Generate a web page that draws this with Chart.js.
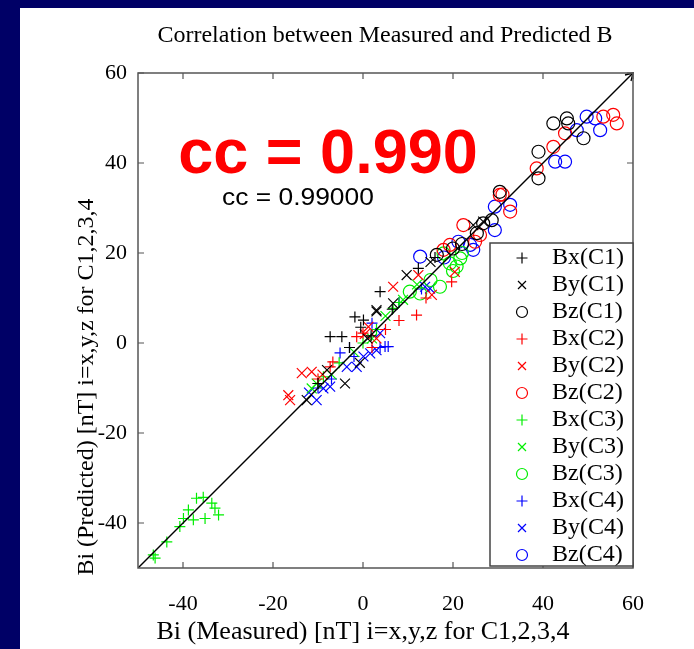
<!DOCTYPE html>
<html>
<head>
<meta charset="utf-8">
<script src="https://cdn.jsdelivr.net/npm/chart.js@4.4.1/dist/chart.umd.min.js"></script>
<style>
  html, body { margin: 0; padding: 0; background: #000066; }
  #wrap { width: 694px; height: 649px; }
</style>
</head>
<body>
<div id="wrap"><canvas id="cc"></canvas></div>
<script>
// axis ticks
var xTicks = [-40, -20, 0, 20, 40, 60];
var yTicks = [-40, -20, 0, 20, 40, 60];
var axisMin = -50, axisMax = 60;

// measured vs predicted, [x, y] per point
var bxC1 = [[-1.8,5.8],[0.1,5.1],[-7.3,1.4],[-4.7,1.4],[3.8,11.4],[12.3,16.6],[-0.5,3.5],[1.8,1.6],[6.5,7.5],[-10,-9],[16,19],[-3,-1]];
var byC1 = [[3,7],[-4,-9],[-12.5,-12.7],[-0.7,-4.4],[9.7,15.1],[6.7,8.8],[3,7.3],[24.5,26.2],[26.7,27],[1,1],[15,18],[-8,-6]];
var bzC1 = [[42.3,48.8],[45.3,49.9],[45.6,48.8],[49,45.5],[39,42.5],[39,36.6],[30.4,33.6],[28.6,27.3],[26.7,26.6],[25.3,24.4],[16.4,19.6],[20,21],[22,22]];
var bxC2 = [[-7.3,-5.3],[-6.7,-4.2],[-1.4,1.4],[0,2.2],[11.9,6.2],[19.7,13.6],[14,10],[5,3],[2,-1],[8,5],[-10,-8]];
var byC2 = [[-16.6,-11.6],[-16.2,-12.7],[-13.6,-6.7],[-11.4,-6.4],[1.2,3.6],[6.7,12.5],[12.3,15.1],[15.3,10.7],[20.4,15.8],[0.4,2],[-9,-7],[3,1]];
var bzC2 = [[22.3,26.2],[17.9,20.7],[19.3,21.8],[24.9,22.5],[44.9,46.6],[42.3,43.6],[38.6,38.8],[30.4,32.9],[32.7,29.2],[53.4,50.3],[55.6,50.7],[56.4,48.8],[31,33],[26,24]];
var bxC3 = [[-37,-34.5],[-35.5,-34.3],[-33.6,-35.6],[-32.9,-36.7],[-32.1,-38.2],[-35.1,-39],[-37.7,-39.3],[-38.8,-37.1],[-39.9,-39],[-40.7,-40.8],[-43.6,-44.2],[-46.6,-47.1],[-46.2,-47.8],[-8.8,-7.5],[-5.3,-4.4],[0,0],[6.7,7.7],[-10,-9],[3,3],[8,9]];
var byC3 = [[-11.4,-10.1],[-10.3,-9],[8.9,9.6],[-2,-2],[2,1],[5,6],[-7,-7],[12,13]];
var bzC3 = [[10.4,11.4],[12.7,11],[17.1,12.5],[19.3,17.7],[21.6,18.8],[20.8,17],[17.9,19.9],[20,16],[15,14],[22,20]];
var bxC4 = [[-5.1,-2.2],[4.9,-0.8],[5.6,-0.8],[3.8,-1],[-10,-10],[-7,-8],[-2,-3],[2,4.4],[13,12],[8,9],[-3,-1]];
var byC4 = [[-10.3,-12.7],[-7.3,-9.7],[-8.8,-10.1],[0.1,-3],[1.6,-2.3],[3,-1.6],[-1.4,-5.3],[-3.6,-5.3],[3.8,2.2],[13.8,12.5],[14.9,12.1],[-12,-11]];
var bzC4 = [[49.7,50.3],[51.6,49.9],[47.5,47.3],[52.7,47.3],[42.7,40.3],[44.9,40.3],[32.7,30.7],[29.3,30.3],[29.3,25.1],[12.7,19.2],[23.8,21.8],[24.5,20.7],[21.2,22.5],[18,19]];

var seriesNames = ['Bx(C1)','By(C1)','Bz(C1)','Bx(C2)','By(C2)','Bz(C2)','Bx(C3)','By(C3)','Bz(C3)','Bx(C4)','By(C4)','Bz(C4)'];
var seriesData = [bxC1, byC1, bzC1, bxC2, byC2, bzC2, bxC3, byC3, bzC3, bxC4, byC4, bzC4];
var craftColors = ['#000000', '#ff0000', '#00ee00', '#0000ff'];
var markers = ['cross', 'crossRot', 'circle'];
var markerSize = { cross: 5.5, crossRot: 7, circle: 6.5 };

var datasets = [];
for (var i = 0; i < seriesNames.length; i++) {
  var style = markers[i % 3];
  datasets.push({
    label: seriesNames[i],
    data: seriesData[i].map(function(p){ return {x: p[0], y: p[1]}; }),
    pointStyle: style,
    pointRadius: markerSize[style],
    pointHoverRadius: markerSize[style],
    borderColor: craftColors[Math.floor(i / 3)],
    backgroundColor: 'rgba(0,0,0,0)',
    pointBorderWidth: 1.2,
    showLine: false
  });
}
// y = x reference line
datasets.push({
  label: 'line',
  data: [{x: axisMin, y: axisMin}, {x: axisMax, y: axisMax}],
  showLine: true,
  borderColor: '#000',
  borderWidth: 1.4,
  pointRadius: 0,
  order: -1
});

function txt(ctx, s, x, y, font, align, base, color, sx) {
  ctx.save();
  ctx.translate(x, y);
  ctx.scale(sx || 1, 1);
  ctx.font = font;
  ctx.textAlign = align;
  ctx.textBaseline = base;
  ctx.fillStyle = color;
  ctx.fillText(s, 0, 0);
  ctx.restore();
}

function marker(ctx, style, x, y, r, color) {
  ctx.save();
  ctx.strokeStyle = color;
  ctx.lineWidth = 1.2;
  ctx.beginPath();
  if (style === 'cross') {
    ctx.moveTo(x - r, y); ctx.lineTo(x + r, y);
    ctx.moveTo(x, y - r); ctx.lineTo(x, y + r);
  } else if (style === 'crossRot') {
    ctx.moveTo(x - r, y - r); ctx.lineTo(x + r, y + r);
    ctx.moveTo(x - r, y + r); ctx.lineTo(x + r, y - r);
  } else {
    ctx.arc(x, y, r, 0, Math.PI * 2);
  }
  ctx.stroke();
  ctx.restore();
}

var serif = '"Liberation Serif", "Times New Roman", serif';
var sans = '"Liberation Sans", Arial, sans-serif';

var framePlugin = {
  id: 'frame',
  beforeDraw: function(chart) {
    var ctx = chart.ctx;
    ctx.save();
    ctx.fillStyle = '#000066';
    ctx.fillRect(0, 0, chart.width, chart.height);
    ctx.fillStyle = '#ffffff';
    ctx.fillRect(20, 8, chart.width - 20, chart.height - 8);
    ctx.restore();
  },
  afterDatasetsDraw: function(chart) {
    var ctx = chart.ctx, a = chart.chartArea;
    var xs = chart.scales.x, ys = chart.scales.y;
    ctx.save();
    // arrow tip of the reference line
    var tx = xs.getPixelForValue(axisMax), ty = ys.getPixelForValue(axisMax);
    ctx.strokeStyle = '#000'; ctx.lineWidth = 1.3;
    ctx.beginPath();
    ctx.moveTo(tx - 8, ty + 2); ctx.lineTo(tx, ty); ctx.lineTo(tx - 2, ty + 8);
    ctx.stroke();
    // box
    ctx.strokeStyle = '#555'; ctx.lineWidth = 1.5;
    ctx.strokeRect(a.left, a.top, a.right - a.left, a.bottom - a.top);
    // inward ticks
    ctx.lineWidth = 1.2;
    ctx.beginPath();
    xTicks.forEach(function(v){
      var px = xs.getPixelForValue(v);
      ctx.moveTo(px, a.bottom); ctx.lineTo(px, a.bottom - 6);
      ctx.moveTo(px, a.top); ctx.lineTo(px, a.top + 6);
    });
    yTicks.forEach(function(v){
      var py = ys.getPixelForValue(v);
      ctx.moveTo(a.left, py); ctx.lineTo(a.left + 6, py);
      ctx.moveTo(a.right, py); ctx.lineTo(a.right - 6, py);
    });
    ctx.stroke();
    // tick labels
    xTicks.forEach(function(v){
      txt(ctx, String(v), xs.getPixelForValue(v), a.bottom + 36, '22px ' + serif, 'center', 'middle', '#000');
    });
    yTicks.forEach(function(v){
      txt(ctx, String(v), a.left - 11, ys.getPixelForValue(v), '22px ' + serif, 'right', 'middle', '#000');
    });
    // titles
    txt(ctx, 'Correlation between Measured and Predicted B', 385, 36, '24px ' + serif, 'center', 'middle', '#000');
    txt(ctx, 'Bi (Measured) [nT] i=x,y,z for C1,2,3,4', 363, a.bottom + 64, '26px ' + serif, 'center', 'middle', '#000');
    ctx.save();
    ctx.translate(87, 387);
    ctx.rotate(-Math.PI / 2);
    ctx.font = '24px ' + serif;
    ctx.textAlign = 'center'; ctx.textBaseline = 'middle'; ctx.fillStyle = '#000';
    ctx.fillText('Bi (Predicted) [nT] i=x,y,z for C1,2,3,4', 0, 0);
    ctx.restore();
    // annotations
    txt(ctx, 'cc = 0.990', 328, 173, 'bold 63px ' + sans, 'center', 'alphabetic', '#ff0000', 1);
    txt(ctx, 'cc = 0.99000', 222, 198, '24px ' + sans, 'left', 'middle', '#000', 1.1);
    // legend
    var lx = 490, ly = 243, lw = 143, lh = 323;
    ctx.fillStyle = '#fff';
    ctx.fillRect(lx, ly, lw, lh);
    ctx.strokeStyle = '#444'; ctx.lineWidth = 1.5;
    ctx.strokeRect(lx, ly, lw, lh);
    for (var i = 0; i < seriesNames.length; i++) {
      var yy = ly + 15 + i * 27;
      var st = markers[i % 3];
      var r = st === 'circle' ? 5.5 : (st === 'crossRot' ? 4 : 5.5);
      marker(ctx, st, 522, yy, r, craftColors[Math.floor(i / 3)]);
      txt(ctx, seriesNames[i], 552, yy, '24px ' + serif, 'left', 'middle', '#000');
    }
    ctx.restore();
  }
};

new Chart(document.getElementById('cc'), {
  type: 'scatter',
  data: { datasets: datasets },
  options: {
    responsive: true,
    maintainAspectRatio: false,
    animation: false,
    layout: { padding: { left: 138, top: 73, right: 61, bottom: 81 } },
    plugins: { legend: { display: false }, tooltip: { enabled: false } },
    scales: {
      x: { type: 'linear', min: axisMin, max: axisMax, display: false },
      y: { type: 'linear', min: axisMin, max: axisMax, display: false }
    }
  },
  plugins: [framePlugin]
});
</script>
</body>
</html>
